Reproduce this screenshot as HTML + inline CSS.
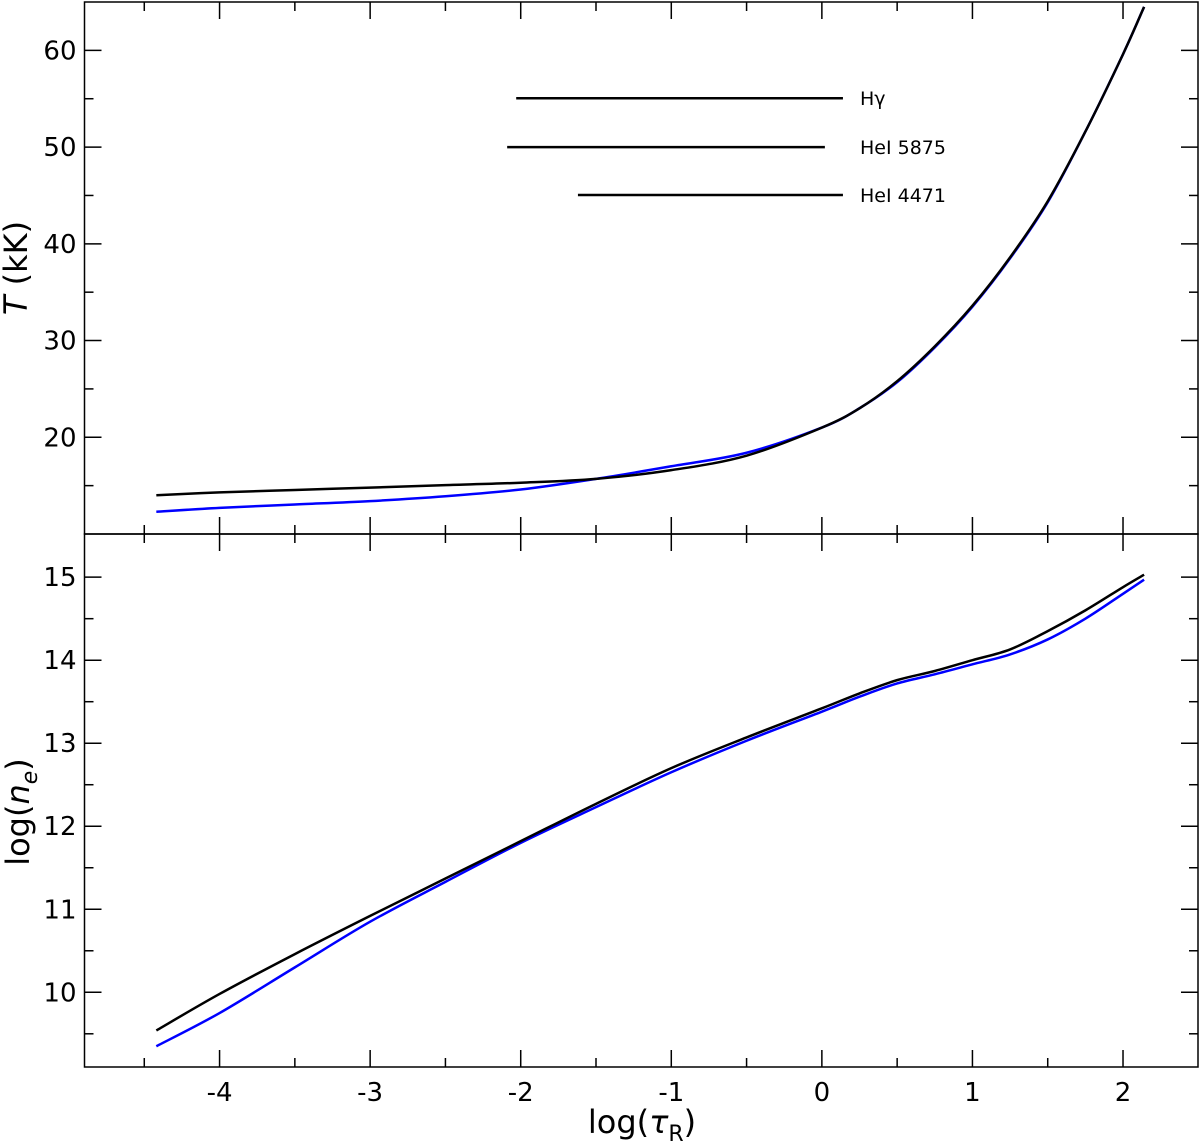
<!DOCTYPE html>
<html><head><meta charset="utf-8"><style>body{margin:0;background:#fff}svg{display:block;font-family:"DejaVu Sans","Liberation Sans",sans-serif}</style></head>
<body>
<svg id="chart" width="1200" height="1143"></svg>
<script>
const xTicks=[-4,-3,-2,-1,0,1,2];
const xTickLabels=["-4","-3","-2","-1","0","1","2"];
const topYTicks=[20,30,40,50,60];
const botYTicks=[10,11,12,13,14,15];
const tauX=[-4.42,-4,-3.5,-3,-2.5,-2,-1.5,-1,-0.5,0,0.25,0.5,0.75,1,1.25,1.5,1.75,2,2.14];
const tempBlack=[14.0,14.3,14.55,14.8,15.05,15.3,15.7,16.6,18.1,21.0,23.0,25.8,29.4,33.6,38.6,44.4,51.6,59.6,64.5];
const tempBlue=[12.3,12.7,13.05,13.4,13.9,14.6,15.7,17.0,18.4,21.0,23.0,25.7,29.3,33.5,38.5,44.3,51.6,59.6,64.5];
const neBlack=[9.54,9.98,10.46,10.92,11.37,11.82,12.27,12.7,13.07,13.42,13.6,13.76,13.87,14.0,14.13,14.35,14.6,14.88,15.03];
const neBlue=[9.35,9.75,10.3,10.85,11.33,11.8,12.23,12.65,13.03,13.38,13.56,13.72,13.83,13.95,14.07,14.25,14.5,14.8,14.97];
const lineNames=["Hγ","HeI 5875","HeI 4471"];
const lineStart=[-2.03,-2.09,-1.62];
const lineEnd=[0.14,0.02,0.14];
const lineLevel=[55.05,50.0,45.05];

const NS="http://www.w3.org/2000/svg";
const svg=document.getElementById('chart');
const L=84.5,R=1198,T=2,M=534,B=1067;
const X=v=>L+(v+4.897)/(2.498+4.897)*(R-L);
const YT=v=>T+(65-v)/(65-10)*(M-T);
const YB=v=>M+(15.52-v)/(15.52-9.1)*(B-M);
function el(tag,attrs,parent){const e=document.createElementNS(NS,tag);for(const k in attrs)e.setAttribute(k,attrs[k]);(parent||svg).appendChild(e);return e;}
function smooth(xs,ys){let p=[];for(let i=0;i<xs.length;i++)p.push([xs[i],ys[i]]);let d="M"+p[0][0]+","+p[0][1];
for(let i=0;i<p.length-1;i++){const p0=p[Math.max(0,i-1)],p1=p[i],p2=p[i+1],p3=p[Math.min(p.length-1,i+2)];
d+=" C"+(p1[0]+(p2[0]-p0[0])/6)+","+(p1[1]+(p2[1]-p0[1])/6)+" "+(p2[0]-(p3[0]-p1[0])/6)+","+(p2[1]-(p3[1]-p1[1])/6)+" "+p2[0]+","+p2[1];}return d;}

const f1=el('rect',{x:L,y:T,width:R-L,height:M-T,fill:'none',stroke:'#000','stroke-width':1.5});

const f2=el('rect',{x:L,y:M,width:R-L,height:B-M,fill:'none',stroke:'#000','stroke-width':1.5});


for(let v=-4.5;v<=2.01;v+=0.5){const px=X(v);const major=Math.abs(v-Math.round(v))<1e-6;const len=major?17:9;
 [[T,T+len],[M-len,M],[M,M+len],[B-len,B]].forEach(s=>{const t=el('line',{x1:px,x2:px,y1:s[0],y2:s[1],stroke:'#000','stroke-width':1.5});});}
xTicks.forEach((v,i)=>{const t=el('text',{x:X(v),y:B+34,'font-size':26,'text-anchor':'middle'});t.textContent=xTickLabels[i];});
for(let v=15;v<=60;v+=5){const py=YT(v);const len=(v%10===0)?17:9;
 [[L,L+len],[R-len,R]].forEach(s=>{const t=el('line',{x1:s[0],x2:s[1],y1:py,y2:py,stroke:'#000','stroke-width':1.5});});}
topYTicks.forEach(v=>{const t=el('text',{x:L-8,y:YT(v)+9,'font-size':26,'text-anchor':'end'});t.textContent=v;});
for(let v=9.5;v<=15.01;v+=0.5){const py=YB(v);const len=(Math.abs(v-Math.round(v))<1e-6)?17:9;
 [[L,L+len],[R-len,R]].forEach(s=>{const t=el('line',{x1:s[0],x2:s[1],y1:py,y2:py,stroke:'#000','stroke-width':1.5});});}
botYTicks.forEach(v=>{const t=el('text',{x:L-8,y:YB(v)+9,'font-size':26,'text-anchor':'end'});t.textContent=v;});

let t=el('text',{x:642,y:1133,'font-size':32,'text-anchor':'middle'});t.innerHTML='log(<tspan font-style="italic">τ</tspan><tspan font-size="22" dy="8">R</tspan><tspan dy="-8">)</tspan>';

t=el('text',{x:0,y:0,'font-size':32,'text-anchor':'middle',transform:'translate(27,268) rotate(-90)'});t.innerHTML='<tspan font-style="italic">T</tspan> (kK)';

t=el('text',{x:0,y:0,'font-size':32,'text-anchor':'middle',transform:'translate(29,812) rotate(-90)'});t.innerHTML='log(<tspan font-style="italic">n</tspan><tspan font-style="italic" font-size="22" dy="8">e</tspan><tspan dy="-8">)</tspan>';


lineNames.forEach((n,i)=>{const l=el('line',{x1:X(lineStart[i]),x2:X(lineEnd[i]),y1:YT(lineLevel[i]),y2:YT(lineLevel[i]),stroke:'#000','stroke-width':2.5});

const tx=el('text',{x:860,y:YT(lineLevel[i])+7,'font-size':19});tx.textContent=n;});

function curve(ys,Y,color,name){const p=el('path',{d:smooth(tauX.map(X),ys.map(Y)),fill:'none',stroke:color,'stroke-width':2.5});}
curve(tempBlue,YT,'#0000ff','temperature-blue-line');
curve(tempBlack,YT,'#000','temperature-black-line');
curve(neBlue,YB,'#0000ff','density-blue-line');
curve(neBlack,YB,'#000','density-black-line');
</script>
</body></html>
